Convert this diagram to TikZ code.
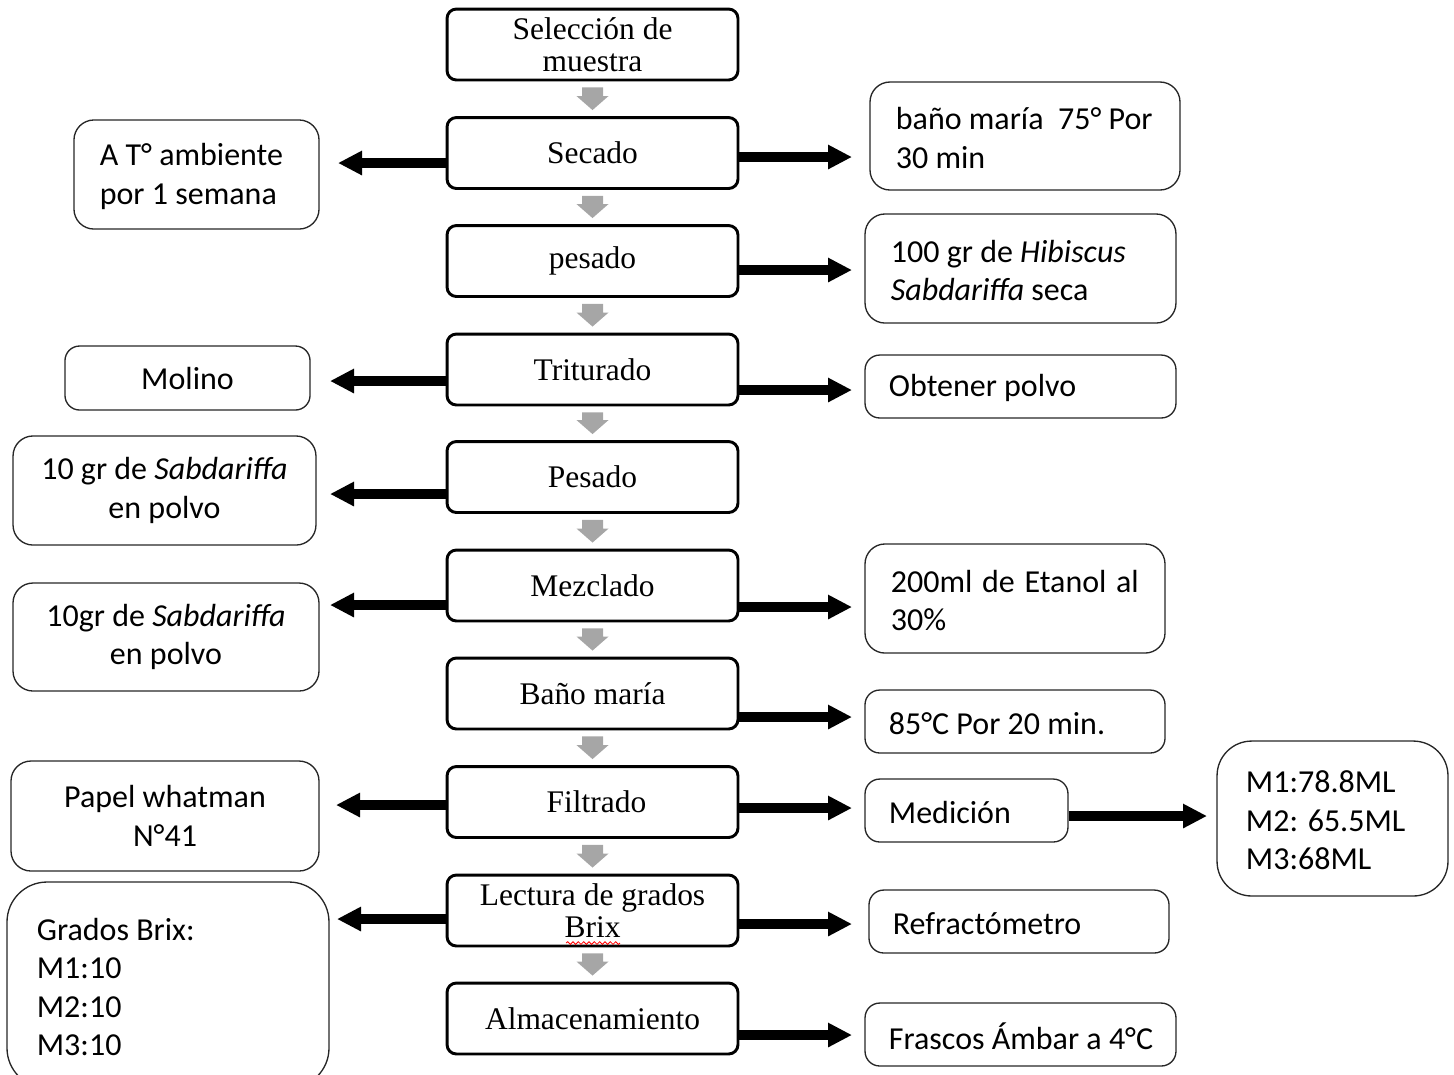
\documentclass[tikz,border=0pt]{standalone}
\usepackage{fontspec}
\setmainfont{Liberation Serif}
\newfontfamily\carl{Carlito}
\usetikzlibrary{arrows.meta,calc,decorations.pathmorphing}
\newcommand\rarr[4]{\coordinate (#1) at (#3,#4); \draw[bigarr] (#2.east |- #1) -- (#1);}
\newcommand\larr[4]{\coordinate (#1) at (#3,#4); \draw[bigarr] (#2.west |- #1) -- (#1);}
\newcommand\garrow[2]{%
  \path (#1.south) ++(0,6) coordinate (#1-g1);
  \path (#2.north) ++(0,-6) coordinate (#1-g2);
  \fill[garr] ($(#1-g1)+(-10.5,0)$) -- ($(#1-g1)+(10.5,0)$) -- ($(#1-g2)+(10.5,-14)$) -- ($(#1-g2)+(16,-14)$) -- (#1-g2) -- ($(#1-g2)+(-16,-14)$) -- ($(#1-g2)+(-10.5,-14)$) -- cycle;}
% left-aligned side box: name, x, y, width, height, inset, extra opts, text
\newcommand\lbx[8]{%
  \node[sbox, minimum width=#4, minimum height=#5, #7] (#1) at (#2,#3) {};
  \node[stxt, anchor=west] (#1-t) at ([xshift=#6,yshift=-0.7pt]#1.west) {#8};}
\begin{document}
\begin{tikzpicture}[x=0.375pt,y=-0.375pt,
  cbox/.style={draw=black, line width=1.1pt, rounded corners=3.5pt, minimum width=109.1pt, minimum height=26.6pt, inner sep=0pt, align=center, font=\fontsize{11.8}{12}\selectfont},
  sbox/.style={draw=black!85, line width=0.5pt, rounded corners=5.5pt, inner sep=0pt},
  big/.style={rounded corners=7.5pt},
  stxt/.style={inner sep=0pt, align=left, font=\carl\fontsize{12}{14.4}\selectfont},
  mbox/.style={sbox, align=center, font=\carl\fontsize{12}{14.4}\selectfont},
  bigarr/.style={line width=3.4pt, -{Triangle[length=9pt,width=8.6pt]}},
  garr/.style={fill=black!35}]
\useasboundingbox (0,0) rectangle (1454,1074);
% central column
\node[cbox] (c1) at (592.5,44.5) {Selección de\\muestra};
\node[cbox] (c2) at (592.5,153) {Secado};
\node[cbox] (c3) at (592.5,261) {pesado};
\node[cbox] (c4) at (592.5,369.5) {Triturado};
\node[cbox] (c5) at (592.5,477) {Pesado};
\node[cbox] (c6) at (592.5,585.5) {Mezclado};
\node[cbox] (c7) at (592.5,693.5) {Baño maría};
\node[cbox] (c8) at (592.5,802) {\hspace*{3pt}Filtrado};
\node[cbox] (c9) at (592.5,910.5) {Lectura de grados\\Brix};
\node[cbox] (c10) at (592.5,1018.5) {Almacenamiento};
\garrow{c1}{c2}
\garrow{c2}{c3}
\garrow{c3}{c4}
\garrow{c4}{c5}
\garrow{c5}{c6}
\garrow{c6}{c7}
\garrow{c7}{c8}
\garrow{c8}{c9}
\garrow{c9}{c10}
\draw[red, line width=0.3pt, decorate, decoration={snake, amplitude=0.5pt, segment length=2pt}] (566,943) -- (620,943);
% right boxes
\lbx{r1}{1025}{136}{116.25pt}{40.5pt}{9.75pt}{big}{baño maría\ \ 75° Por\\30 min}
\lbx{r2}{1020.5}{268.5}{116.6pt}{40.9pt}{9.75pt}{big}{100 gr de \textit{Hibiscus}\\\textit{Sabdariffa} seca}
\lbx{r3}{1020.5}{386.5}{116.6pt}{23.6pt}{9pt}{}{Obtener polvo}
\lbx{r6}{1015}{598.5}{112.5pt}{40.9pt}{9.75pt}{big}{\makebox[93pt][s]{200ml de Etanol al}\\30\%}
\lbx{r7}{1015}{721.5}{112.5pt}{23.6pt}{9pt}{}{85°C Por 20 min.}
\lbx{r8}{966.5}{810.5}{76.1pt}{23.6pt}{9pt}{}{Medición}
\lbx{r8b}{1332.5}{818.5}{86.6pt}{58.1pt}{10.9pt}{rounded corners=13pt}{M1:78.8ML\\M2: 65.5ML\\M3:68ML}
\lbx{r9}{1019}{921.5}{112.5pt}{23.6pt}{9pt}{}{Refractómetro}
\lbx{r10}{1020.5}{1034.5}{116.6pt}{23.6pt}{9pt}{}{Frascos Ámbar a 4°C}
% left boxes
\lbx{l2}{196.5}{174.5}{91.9pt}{40.9pt}{9.75pt}{big}{A T° ambiente\\por 1 semana}
\node[mbox, minimum width=91.9pt, minimum height=24pt] (l4) at (187.5,378) {Molino};
\node[mbox, big, minimum width=113.6pt, minimum height=40.9pt] (l5) at (164.5,490.5) {10 gr de \textit{Sabdariffa}\\en polvo};
\node[mbox, big, minimum width=114.75pt, minimum height=40.5pt] (l6) at (166,637) {10gr de \textit{Sabdariffa}\\en polvo};
\node[mbox, big, minimum width=115.5pt, minimum height=41.25pt] (l8) at (165,816) {Papel whatman\\N°41};
\lbx{l9}{168}{985}{120.75pt}{77.25pt}{11.25pt}{rounded corners=15pt}{Grados Brix:\\M1:10\\M2:10\\M3:10}
% arrows
\larr{t2l}{c2}{338}{163}
\rarr{t2r}{c2}{852}{157}
\rarr{t3r}{c3}{852}{270}
\larr{t4l}{c4}{330}{381}
\rarr{t4r}{c4}{852}{390}
\larr{t5l}{c5}{330}{494}
\larr{t6l}{c6}{330}{605}
\rarr{t6r}{c6}{852}{607}
\rarr{t7r}{c7}{852}{717}
\larr{t8l}{c8}{336}{805}
\rarr{t8r}{c8}{852}{808}
\rarr{t8m}{r8}{1207}{816}
\larr{t9l}{c9}{337}{919}
\rarr{t9r}{c9}{852}{924}
\rarr{t10r}{c10}{852}{1035}
\end{tikzpicture}
\end{document}
